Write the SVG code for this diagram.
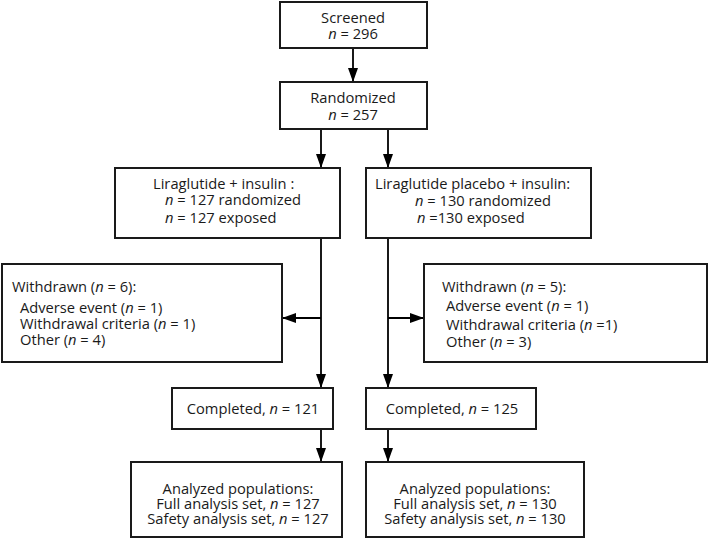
<svg xmlns="http://www.w3.org/2000/svg" width="709" height="546" viewBox="0 0 709 546">
<defs>
<style>
.box{fill:#fff;stroke:#1a1a1a;stroke-width:2}
.t{font-family:"Open Sans","Noto Sans","Liberation Sans",sans-serif;font-size:14.7px;fill:#1a1a1a}
.c{text-anchor:middle}
.i{font-style:italic}
.ln{fill:none;stroke:#000;stroke-width:1.8}
</style>
<marker id="ah" viewBox="0 0 14 10" refX="14" refY="5" markerWidth="14" markerHeight="10" markerUnits="userSpaceOnUse" orient="auto">
<path d="M0,0 L14,5 L0,10 Z" fill="#000"/>
</marker>
</defs>
<rect width="709" height="546" fill="#fff"/>
<g id="connectors">
<line class="ln" x1="353" y1="48" x2="353" y2="82" marker-end="url(#ah)"/>
<line class="ln" x1="321" y1="129" x2="321" y2="168" marker-end="url(#ah)"/>
<line class="ln" x1="388" y1="129" x2="388" y2="168" marker-end="url(#ah)"/>
<line class="ln" x1="321" y1="238" x2="321" y2="388" marker-end="url(#ah)"/>
<line class="ln" x1="321" y1="318" x2="282" y2="318" marker-end="url(#ah)"/>
<line class="ln" x1="388" y1="238" x2="388" y2="388" marker-end="url(#ah)"/>
<line class="ln" x1="388" y1="318" x2="424" y2="318" marker-end="url(#ah)"/>
<line class="ln" x1="321" y1="429" x2="321" y2="462" marker-end="url(#ah)"/>
<line class="ln" x1="388" y1="429" x2="388" y2="462" marker-end="url(#ah)"/>
</g>
<g id="screened">
<rect class="box" x="280" y="2" width="147" height="46"/>
<text class="t c" x="353" y="23">Screened</text>
<text class="t c" x="353" y="39"><tspan class="i">n</tspan> = 296</text>
</g>
<g id="randomized">
<rect class="box" x="280" y="82" width="147" height="47"/>
<text class="t c" x="353" y="103">Randomized</text>
<text class="t c" x="353" y="120"><tspan class="i">n</tspan> = 257</text>
</g>
<g id="lira">
<rect class="box" x="115" y="168" width="225" height="70"/>
<text class="t" x="153" y="189">Liraglutide + insulin :</text>
<text class="t" x="165" y="205"><tspan class="i">n</tspan> = 127 randomized</text>
<text class="t" x="165" y="223"><tspan class="i">n</tspan> = 127 exposed</text>
</g>
<g id="placebo">
<rect class="box" x="366" y="168" width="225" height="70"/>
<text class="t" x="375" y="189">Liraglutide placebo + insulin:</text>
<text class="t" x="415" y="206"><tspan class="i">n</tspan> = 130 randomized</text>
<text class="t" x="417" y="223"><tspan class="i">n</tspan> =130 exposed</text>
</g>
<g id="withdrawn-left">
<rect class="box" x="2" y="264" width="280" height="98"/>
<text class="t" x="12" y="292">Withdrawn (<tspan class="i">n</tspan> = 6):</text>
<text class="t" x="20" y="313">Adverse event (<tspan class="i">n</tspan> = 1)</text>
<text class="t" x="20" y="329">Withdrawal criteria (<tspan class="i">n</tspan> = 1)</text>
<text class="t" x="20" y="345">Other (<tspan class="i">n</tspan> = 4)</text>
</g>
<g id="withdrawn-right">
<rect class="box" x="424" y="264" width="283" height="98"/>
<text class="t" x="442" y="292">Withdrawn (<tspan class="i">n</tspan> = 5):</text>
<text class="t" x="446" y="311">Adverse event (<tspan class="i">n</tspan> = 1)</text>
<text class="t" x="446" y="330">Withdrawal criteria (<tspan class="i">n</tspan> =1)</text>
<text class="t" x="446" y="347">Other (<tspan class="i">n</tspan> = 3)</text>
</g>
<g id="completed-left">
<rect class="box" x="172" y="388" width="161" height="41"/>
<text class="t c" x="253" y="414">Completed, <tspan class="i">n</tspan> = 121</text>
</g>
<g id="completed-right">
<rect class="box" x="366" y="388" width="170" height="41"/>
<text class="t c" x="452" y="414">Completed, <tspan class="i">n</tspan> = 125</text>
</g>
<g id="analyzed-left">
<rect class="box" x="131" y="462" width="211" height="75"/>
<text class="t c" x="238" y="494">Analyzed populations:</text>
<text class="t c" x="238" y="509">Full analysis set, <tspan class="i">n</tspan> = 127</text>
<text class="t c" x="238" y="524">Safety analysis set, <tspan class="i">n</tspan> = 127</text>
</g>
<g id="analyzed-right">
<rect class="box" x="366" y="462" width="218" height="75"/>
<text class="t c" x="475" y="494">Analyzed populations:</text>
<text class="t c" x="475" y="509">Full analysis set, <tspan class="i">n</tspan> = 130</text>
<text class="t c" x="475" y="524">Safety analysis set, <tspan class="i">n</tspan> = 130</text>
</g>
</svg>
